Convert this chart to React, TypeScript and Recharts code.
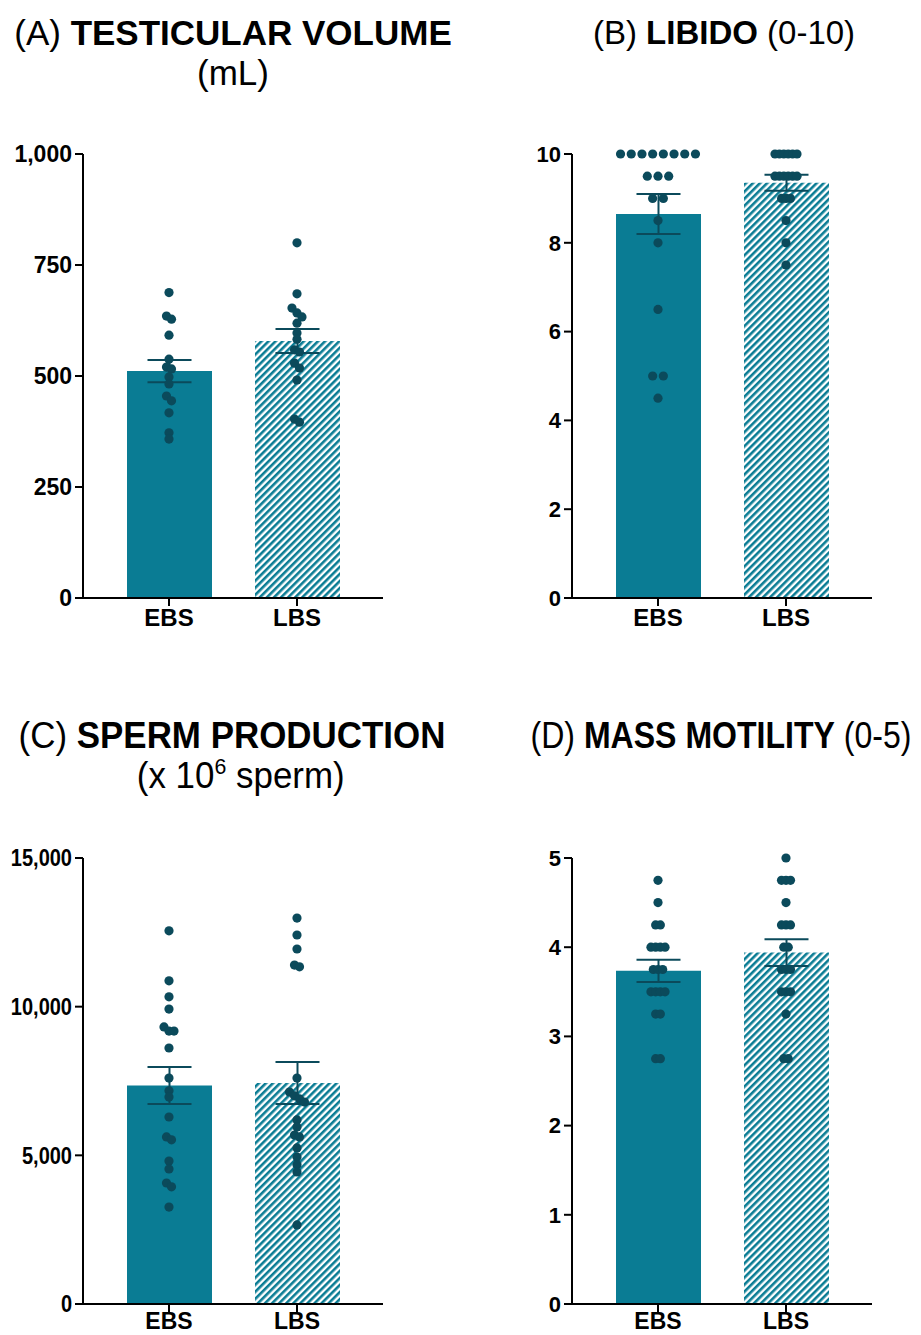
import { ComposedChart, Bar, Cell, ErrorBar, Scatter, XAxis, YAxis } from 'recharts';

const groups = ['EBS', 'LBS'];

// (A) testicular volume, mL
const volumeMean = [511, 579];
const volumeSem = [25, 27];
const volumeEbs = [688, 635, 628, 592, 538, 520, 516, 498, 482, 455, 444, 417, 372, 358];
const volumeLbs = [800, 685, 653, 642, 633, 619, 597, 583, 559, 554, 529, 518, 491, 403, 396];
const volumeTicks = [0, 250, 500, 750, 1000];

// (B) libido score 0-10
const libidoMean = [8.65, 9.35];
const libidoSem = [0.45, 0.18];
const libidoEbs = [10, 10, 10, 10, 10, 10, 10, 10, 9.5, 9.5, 9.5, 9, 9, 8.5, 8, 6.5, 5, 5, 4.5];
const libidoLbs = [10, 10, 10, 10, 10, 10, 9.5, 9.5, 9.5, 9.5, 9.5, 9.5, 9, 9, 9, 8.5, 8, 7.5];
const libidoTicks = [0, 2, 4, 6, 8, 10];

// (C) sperm production, x10^6
const spermMean = [7350, 7433];
const spermSem = [622, 706];
const spermEbs = [12550, 10870, 10330, 9920, 9320, 9180, 9180, 8610, 7600, 7170, 6960, 6290, 5620, 5520, 4810, 4540, 4070, 3940, 3260];
const spermLbs = [12980, 12410, 11940, 11400, 11340, 7600, 7130, 7000, 6900, 6790, 6190, 5950, 5680, 5620, 5250, 4940, 4680, 4440, 2660];
const spermTicks = [0, 5000, 10000, 15000];

// (D) mass motility 0-5
const motilityMean = [3.735, 3.94];
const motilitySem = [0.125, 0.15];
const motilityEbs = [4.75, 4.5, 4.25, 4.25, 4, 4, 4, 4, 3.75, 3.75, 3.75, 3.5, 3.5, 3.5, 3.5, 3.25, 3.25, 2.75, 2.75];
const motilityLbs = [5, 4.75, 4.75, 4.75, 4.5, 4.25, 4.25, 4.25, 4, 4, 3.75, 3.75, 3.75, 3.5, 3.5, 3.5, 3.25, 2.75, 2.75];
const motilityTicks = [0, 1, 2, 3, 4, 5];

const TEAL = '#0a7c94';
const DARK = '#0b4a5b';
const FONT = 'Arial, "Liberation Sans", Helvetica, sans-serif';

// spread dots that sit (almost) on top of each other, like a column scatter
function swarm(values: number[], name: string, pxPerUnit: number, gap: number) {
  const sorted = [...values].sort((a, b) => b - a);
  const out: { name: string; v: number; dx: number }[] = [];
  let cluster: number[] = [];
  const flush = () => {
    cluster.forEach((v, i) => out.push({ name, v, dx: (i - (cluster.length - 1) / 2) * gap }));
    cluster = [];
  };
  sorted.forEach((v) => {
    if (cluster.length && (cluster[cluster.length - 1] - v) * pxPerUnit >= 5) flush();
    cluster.push(v);
  });
  flush();
  return out;
}

const Dot = (p: any) => <circle cx={p.cx + p.payload.dx} cy={p.cy} r={4.6} fill={DARK} />;

// narrower y tick text (panel C uses a condensed look)
const makeYTick = (fmt: (v: number) => string, size: number, sx: number) => (p: any) => (
  <text
    transform={`translate(${p.x},${p.y}) scale(${sx},1)`}
    textAnchor="end"
    dy="0.355em"
    fill="#000"
    fontWeight="bold"
    fontFamily={FONT}
    fontSize={size}
  >
    {fmt(p.payload.value)}
  </text>
);

function Panel({ left, top, width, plotHeight, yMax, ticks, fmt, mean, sem, ebs, lbs, gaps, yFont, ySx = 1, xFont, xMargin }: any) {
  const bars = groups.map((g, i) => ({ name: g, mean: mean[i], err: sem[i] }));
  const ppu = plotHeight / yMax;
  const dots = [...swarm(ebs, 'EBS', ppu, gaps[0]), ...swarm(lbs, 'LBS', ppu, gaps[1])];
  const axisLine = { stroke: '#000', strokeWidth: 2 };
  return (
    <div style={{ position: 'absolute', left, top }}>
      <ComposedChart
        width={width}
        height={34 + plotHeight + 38}
        data={bars}
        margin={{ top: 34, right: width - 83 - 300, bottom: 0, left: 0 }}
        style={{ overflow: 'visible' }}
      >
        <XAxis
          dataKey="name"
          allowDuplicatedCategory={false}
          padding={{ left: 22, right: 22 }}
          height={38}
          axisLine={axisLine}
          tickLine={axisLine}
          tickSize={8}
          tickMargin={xMargin}
          tick={{ fill: '#000', fontWeight: 'bold', fontFamily: FONT, fontSize: xFont }}
        />
        <YAxis
          type="number"
          domain={[0, yMax]}
          ticks={ticks}
          interval={0}
          width={83}
          axisLine={axisLine}
          tickLine={axisLine}
          tickSize={8}
          tickMargin={3}
          tick={makeYTick(fmt, yFont, ySx)}
        />
        <Bar dataKey="mean" barSize={85} isAnimationActive={false}>
          {bars.map((b, i) => (
            <Cell key={b.name} fill={i === 0 ? TEAL : 'url(#hatch)'} />
          ))}
          <ErrorBar dataKey="err" width={22} stroke={DARK} strokeWidth={2} />
        </Bar>
        <Scatter data={dots} dataKey="v" shape={Dot} isAnimationActive={false} />
      </ComposedChart>
    </div>
  );
}

function Title({ cx, top, size = 34, sx = 1, children }: any) {
  return (
    <div
      style={{
        position: 'absolute',
        left: cx - 300,
        top,
        width: 600,
        textAlign: 'center',
        fontFamily: FONT,
        fontSize: size,
        lineHeight: '40px',
        color: '#000',
        whiteSpace: 'nowrap',
        transform: `scaleX(${sx})`,
      }}
    >
      {children}
    </div>
  );
}

const comma = (v: number) => v.toLocaleString('en-US');
const plain = (v: number) => String(v);

export default function App() {
  return (
    <div style={{ position: 'absolute', left: 0, top: 0, width: 921, height: 1335, overflow: 'hidden', background: '#fff' }}>
      <svg width={0} height={0} style={{ position: 'absolute' }}>
        <defs>
          <pattern id="hatch" patternUnits="userSpaceOnUse" width={5} height={5} patternTransform="rotate(45)">
            <rect width={5} height={5} fill="#fff" />
            <rect width={2.6} height={5} fill={TEAL} />
          </pattern>
        </defs>
      </svg>

      <Title cx={233} top={13} size={35}>
        (A) <b>TESTICULAR VOLUME</b>
        <br />
        (mL)
      </Title>
      <Title cx={724} top={13} size={33}>
        (B) <b>LIBIDO</b> (0-10)
      </Title>
      <Title cx={232} top={716} size={36} sx={0.97}>
        (C) <b>SPERM PRODUCTION</b>
        <br />
        <span style={{ position: 'relative', left: 9 }}>
          (x 10<sup style={{ fontSize: 22, verticalAlign: 'top', lineHeight: '22px' }}>6</sup> sperm)
        </span>
      </Title>
      <Title cx={721} top={716} size={36} sx={0.89}>
        (D) <b>MASS MOTILITY</b> (0-5)
      </Title>

      <Panel left={0} top={120} width={460} plotHeight={444} yMax={1000} ticks={volumeTicks} fmt={comma}
        yFont={23} xFont={24} xMargin={3}
        mean={volumeMean} sem={volumeSem} ebs={volumeEbs} lbs={volumeLbs} gaps={[5, 5]} />
      <Panel left={489} top={120} width={432} plotHeight={444} yMax={10} ticks={libidoTicks} fmt={plain}
        yFont={22} xFont={24} xMargin={3}
        mean={libidoMean} sem={libidoSem} ebs={libidoEbs} lbs={libidoLbs} gaps={[10.7, 4.4]} />
      <Panel left={0} top={824} width={460} plotHeight={446} yMax={15000} ticks={spermTicks} fmt={comma}
        yFont={23} ySx={0.87} xFont={23} xMargin={1}
        mean={spermMean} sem={spermSem} ebs={spermEbs} lbs={spermLbs} gaps={[5, 5]} />
      <Panel left={489} top={824} width={432} plotHeight={446} yMax={5} ticks={motilityTicks} fmt={plain}
        yFont={22} xFont={23} xMargin={1}
        mean={motilityMean} sem={motilitySem} ebs={motilityEbs} lbs={motilityLbs} gaps={[4.7, 4.5]} />
    </div>
  );
}
